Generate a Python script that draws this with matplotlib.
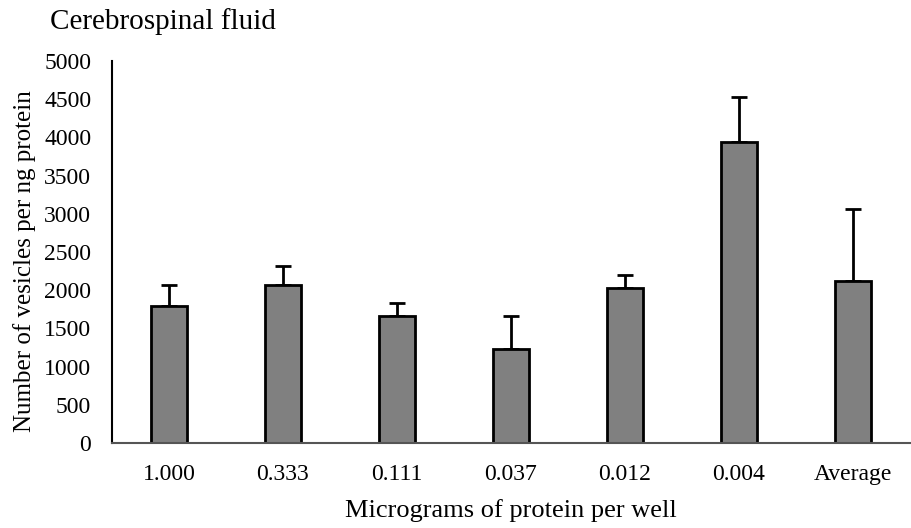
import matplotlib
matplotlib.use("Agg")
import matplotlib.pyplot as plt
import numpy as np

categories = ["1.000", "0.333", "0.111", "0.037", "0.012", "0.004", "Average"]
values = [1797, 2068, 1662, 1230, 2029, 3940, 2120]
errors = [271, 249, 170, 432, 170, 589, 943]
yticks = [0, 500, 1000, 1500, 2000, 2500, 3000, 3500, 4000, 4500, 5000]

plt.rcParams['font.family'] = ['Liberation Serif', 'DejaVu Serif']

fig = plt.figure(figsize=(9.12, 5.28), dpi=100)
ax = fig.add_axes([112/912, 1-443/528, (910-112)/912, (443-61)/528])

x = np.arange(len(categories))
ax.bar(x, values, width=0.32, color="#808080", edgecolor="black", linewidth=2, zorder=2)
ax.errorbar(x, values, yerr=[np.zeros(len(values)), errors], fmt="none",
            ecolor="black", elinewidth=2, capsize=6, capthick=2, zorder=1)

ax.set_xlim(-0.5, len(categories) - 0.5)
ax.set_ylim(0, 5000)
ax.set_yticks(yticks)
ax.set_xticks(x)
ax.set_xticklabels(categories)
ax.tick_params(axis="both", length=0, labelsize=17)
ax.tick_params(axis="x", pad=15)
ax.tick_params(axis="y", pad=15)
for s in ["top", "right"]:
    ax.spines[s].set_visible(False)
ax.spines["left"].set_linewidth(1.5)
ax.spines["bottom"].set_linewidth(1.5)
ax.spines["bottom"].set_color("#555555")

ax.set_xlabel("Micrograms of protein per well", fontsize=19, labelpad=10)
ax.set_ylabel("Number of vesicles per ng protein", fontsize=18, labelpad=5.5, y=0.475)
fig.text(50/912, 1-22/528, "Cerebrospinal fluid", fontsize=21, va="center", ha="left")

fig.savefig("out.png", dpi=100)
